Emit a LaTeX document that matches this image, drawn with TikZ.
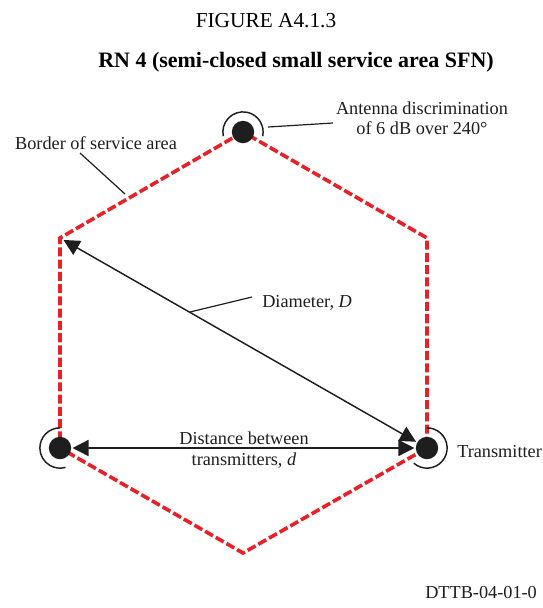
\documentclass[tikz,border=0pt]{standalone}
\usepackage{fontspec}
\setmainfont{Liberation Serif}
\usetikzlibrary{arrows.meta}
\definecolor{hexred}{RGB}{232,32,40}
\definecolor{ink}{RGB}{30,30,30}
\begin{document}
\begin{tikzpicture}[x=0.75pt,y=-0.75pt,
  border/.style={draw=hexred,line width=2.7pt,dash pattern=on 6.8pt off 2.4pt},
  tx/.style={circle,fill=ink,minimum size=16.8pt,inner sep=0pt,outer sep=0pt},
  ring/.style={draw=ink,line width=1.1pt},
  dim/.style={draw=ink,line width=1.1pt,{Triangle[length=12pt,width=12pt]}-{Triangle[length=12pt,width=12pt]}},
  leader/.style={draw=ink,line width=0.9pt},
  lbl/.style={font=\fontsize{13.7}{16}\selectfont,inner sep=0pt,text=ink},
  ttl/.style={font=\fontsize{16}{19}\selectfont,inner sep=0pt,text=black},
  ttlb/.style={font=\fontsize{16.5}{19}\selectfont\bfseries,inner sep=0pt,text=black}]
\useasboundingbox (0,0) rectangle (543,608);
% hexagon vertices
\coordinate (T)  at (243,132);
\coordinate (UL) at (60,238);
\coordinate (LL) at (60,448);
\coordinate (B)  at (243,553);
\coordinate (LR) at (427,448);
\coordinate (UR) at (427,238);
\draw[border] (T) -- (UL) -- (LL) -- (B) -- (LR) -- (UR) -- cycle;
% rings (antenna discrimination)
\draw[ring] (T)  ++(-12:15.1pt) arc[start angle=-12,end angle=192,radius=15.1pt];
\draw[ring] (LL) ++(90:15.1pt)  arc[start angle=90,end angle=286,radius=15.1pt];
\draw[ring] (LR) ++(229:15.1pt) arc[start angle=229,end angle=450,radius=15.1pt];
% transmitters
\node[tx] (tT) at (T) {};
\node[tx] (tL) at (LL) {};
\node[tx] (tR) at (LR) {};
% dimension arrows
\draw[dim,shorten <=3pt,shorten >=1pt] (UL) -- (tR);
\draw[dim,shorten <=1pt,shorten >=1pt] (tL) -- (tR);
% titles
\node[ttl,anchor=base] (fig) at (266,27) {FIGURE A4.1.3};
\node[ttlb,anchor=base] (rn) at (296,67) {RN 4 (semi-closed small service area SFN)};
% labels
\node[lbl,anchor=base] (ant1) at (422,114) {Antenna discrimination};
\node[lbl,anchor=base] (ant2) at (422,134) {of 6 dB over 240°};
\node[lbl,anchor=base] (bord) at (96,149) {Border of service area};
\node[lbl,anchor=base west] (diam) at (262,307) {Diameter, \textit{D}};
\node[lbl,anchor=base] (dist1) at (244,444) {Distance between};
\node[lbl,anchor=base] (dist2) at (244,465) {transmitters, \textit{d}};
\node[lbl,anchor=base west] (txl) at (457,457) {Transmitter};
\node[lbl,anchor=base west] (code) at (425,598) {DTTB-04-01-0};
% leaders
\coordinate (antA) at (268,127);
\coordinate (antB) at (333,123);
\draw[leader] (antA) -- (antB);
\coordinate (bordA) at (80,153);
\coordinate (bordB) at (125,194);
\draw[leader] (bordA) -- (bordB);
\coordinate (diamA) at (190,312);
\coordinate (diamB) at (252,297);
\draw[leader] (diamA) -- (diamB);
\end{tikzpicture}
\end{document}
